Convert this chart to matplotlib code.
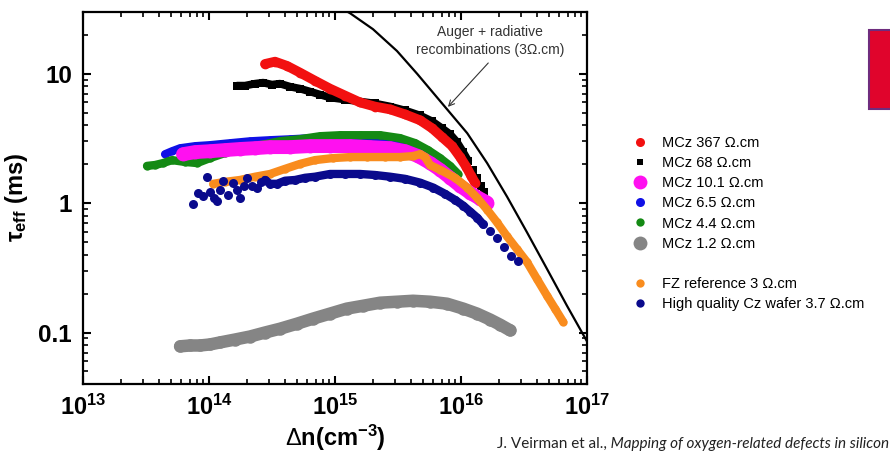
import matplotlib
matplotlib.use('Agg')
import matplotlib.pyplot as plt
from matplotlib.lines import Line2D
from matplotlib.patches import Rectangle
from matplotlib.ticker import LogLocator, NullFormatter
import numpy as np

plt.rcParams['font.family'] = ['Liberation Sans', 'DejaVu Sans']
plt.rcParams['mathtext.fontset'] = 'custom'
plt.rcParams['mathtext.rm'] = 'Liberation Sans'
plt.rcParams['mathtext.it'] = 'Liberation Sans:italic'
plt.rcParams['mathtext.bf'] = 'Liberation Sans:bold'

# ---------------- data (excess carrier density in cm^-3, lifetime in ms) ----------------
mcz367_n = [2.78e14, 3.34e14, 4.16e14, 5.27e14, 6.93e14, 9.12e14, 1.20e15, 1.58e15, 2.07e15,
            2.74e15, 3.60e15, 4.73e15, 5.89e15, 7.06e15, 8.49e15, 9.82e15, 1.10e16, 1.20e16, 1.29e16]
mcz367_tau = [11.9, 12.4, 11.5, 10.2, 8.83, 7.67, 6.78, 6.00, 5.58,
              5.30, 4.85, 4.37, 3.79, 3.24, 2.76, 2.27, 1.91, 1.63, 1.44]

mcz68_n = [1.67e14, 1.93e14, 2.32e14, 2.69e14, 3.16e14, 3.66e14, 4.40e14, 5.27e14, 6.34e14,
           7.60e14, 9.12e14, 1.20e15, 1.58e15, 2.07e15, 2.74e15, 3.60e15, 4.73e15, 5.89e15,
           7.06e15, 8.18e15, 9.29e15, 1.04e16, 1.14e16, 1.24e16, 1.34e16, 1.44e16, 1.52e16]
mcz68_tau = [8.09, 8.09, 8.38, 8.53, 8.24, 8.38, 7.94, 7.67, 7.28,
             6.90, 6.55, 6.32, 6.10, 5.89, 5.58, 5.20, 4.76, 4.29,
             3.79, 3.41, 2.96, 2.48, 2.12, 1.81, 1.57, 1.36, 1.22]

mcz10_n = [6.22e13, 7.74e13, 1.02e14, 1.34e14, 1.76e14, 2.32e14, 3.05e14, 4.40e14, 6.34e14,
           9.12e14, 1.32e15, 1.90e15, 2.74e15, 3.60e15, 4.56e15, 5.68e15, 6.81e15, 8.18e15,
           9.82e15, 1.18e16, 1.42e16, 1.61e16]
mcz10_tau = [2.39, 2.48, 2.52, 2.57, 2.62, 2.66, 2.71, 2.71, 2.76,
             2.76, 2.76, 2.71, 2.66, 2.52, 2.31, 2.04, 1.81, 1.57,
             1.36, 1.20, 1.08, 1.01]

mcz6_n = [4.47e13, 5.08e13, 5.89e13, 7.74e13, 1.02e14, 1.47e14, 2.11e14, 3.05e14, 4.40e14,
          6.34e14, 9.12e14, 1.32e15, 1.90e15, 2.74e15, 3.94e15, 5.18e15, 6.56e15, 7.89e15, 9.12e15]
mcz6_tau = [2.39, 2.52, 2.66, 2.76, 2.81, 2.91, 3.01, 3.07, 3.12,
            3.18, 3.24, 3.24, 3.18, 3.07, 2.81, 2.52, 2.19, 1.91, 1.65]

mcz4_n = [3.22e13, 3.72e13, 4.32e13, 5.08e13, 6.46e13, 8.04e13, 1.02e14, 1.34e14, 1.76e14,
          2.54e14, 3.66e14, 5.27e14, 7.60e14, 1.10e15, 1.58e15, 2.28e15, 3.28e15, 4.32e15,
          5.47e15, 6.81e15, 8.18e15, 9.46e15]
mcz4_tau = [1.94, 1.97, 2.04, 2.15, 2.08, 2.04, 2.23, 2.44, 2.62,
            2.81, 3.01, 3.12, 3.29, 3.35, 3.35, 3.35, 3.18, 2.91,
            2.57, 2.23, 1.94, 1.68]

mcz1_n = [5.89e13, 7.06e13, 8.49e13, 1.02e14, 1.22e14, 1.61e14, 2.11e14, 2.78e14, 3.66e14,
          4.99e14, 6.68e14, 9.12e14, 1.24e15, 1.67e15, 2.28e15, 3.10e15, 4.16e15, 5.68e15,
          7.74e15, 1.04e16, 1.34e16, 1.70e16, 2.04e16, 2.45e16]
mcz1_tau = [0.0782, 0.0794, 0.0794, 0.0809, 0.0838, 0.0883, 0.0931, 0.100, 0.107,
            0.117, 0.128, 0.140, 0.153, 0.161, 0.170, 0.173, 0.176, 0.173,
            0.167, 0.153, 0.140, 0.126, 0.115, 0.104]

fz_n = [1.08e14, 1.34e14, 1.76e14, 2.32e14, 3.05e14, 4.01e14, 5.27e14, 6.93e14, 9.64e14,
        1.32e15, 1.79e15, 2.49e15, 3.28e15, 4.16e15, 4.73e15, 5.18e15, 5.68e15, 6.81e15,
        8.95e15, 1.12e16, 1.34e16, 1.61e16, 1.93e16, 2.32e16, 2.78e16, 3.34e16, 4.01e16,
        4.82e16, 5.57e16, 6.46e16]
fz_tau = [1.41, 1.46, 1.51, 1.60, 1.68, 1.84, 2.01, 2.15, 2.23,
          2.27, 2.27, 2.27, 2.27, 2.31, 2.39, 2.27, 1.97, 1.81,
          1.57, 1.32, 1.10, 0.891, 0.710, 0.553, 0.441, 0.350, 0.259,
          0.192, 0.153, 0.121]

hq_n = [7.46e13, 8.18e13, 8.95e13, 9.64e13, 1.02e14, 1.10e14, 1.16e14, 1.22e14, 1.29e14,
        1.42e14, 1.55e14, 1.67e14, 1.76e14, 1.90e14, 2.00e14, 2.19e14, 2.40e14, 2.59e14,
        2.78e14, 3.05e14, 3.47e14, 4.01e14, 4.82e14, 5.78e14, 6.93e14, 9.12e14, 1.20e15,
        1.58e15, 2.07e15, 2.74e15, 3.60e15, 4.73e15, 6.00e15, 7.46e15, 8.95e15, 1.04e16,
        1.18e16, 1.34e16, 1.50e16, 1.70e16, 1.93e16, 2.19e16, 2.49e16, 2.83e16]
hq_tau = [0.99, 1.20, 1.14, 1.60, 1.22, 1.10, 1.03, 1.27, 1.49,
          1.16, 1.44, 1.27, 1.10, 1.36, 1.57, 1.36, 1.32, 1.46,
          1.51, 1.41, 1.41, 1.49, 1.51, 1.57, 1.60, 1.68, 1.68,
          1.68, 1.65, 1.60, 1.54, 1.44, 1.32, 1.18, 1.06, 0.957,
          0.861, 0.774, 0.684, 0.605, 0.535, 0.456, 0.389, 0.356]

auger_n = [7.60e14, 1.32e15, 2.00e15, 3.10e15, 4.48e15, 6.46e15, 1.12e16,
           1.61e16, 2.32e16, 3.34e16, 4.82e16, 6.93e16, 1.0e17]
auger_tau = [39.6, 29.3, 22.1, 15.0, 10.0, 6.55, 3.47,
             2.04, 1.12, 0.594, 0.309, 0.161, 0.0853]

legend_labels = ['MCz 367 Ω.cm', 'MCz 68 Ω.cm', 'MCz 10.1 Ω.cm', 'MCz 6.5 Ω.cm',
                 'MCz 4.4 Ω.cm', 'MCz 1.2 Ω.cm', '', 'FZ reference 3 Ω.cm',
                 'High quality Cz wafer 3.7 Ω.cm']
x_ticks = [1e13, 1e14, 1e15, 1e16, 1e17]
x_tick_labels = [r'$\mathbf{10^{13}}$', r'$\mathbf{10^{14}}$', r'$\mathbf{10^{15}}$',
                 r'$\mathbf{10^{16}}$', r'$\mathbf{10^{17}}$']
y_ticks = [0.1, 1, 10]
y_tick_labels = ['0.1', '1', '10']

# ---------------- styles ----------------
C_RED = '#f21010'
C_BLACK = '#000000'
C_MAG = '#ff10f0'
C_BLUE = '#1010e6'
C_GREEN = '#148a14'
C_GRAY = '#858585'
C_ORANGE = '#f98c1e'
C_NAVY = '#0a0a8c'

fig = plt.figure(figsize=(8.9, 4.53), dpi=100)
ax = fig.add_axes([0.0933, 0.1523, 0.5663, 0.8212])
ax.set_xscale('log')
ax.set_yscale('log')


def band(n, tau, color, lw, ms, marker='o', line_part=slice(None), z=2):
    n = np.asarray(n)
    tau = np.asarray(tau)
    if lw > 0:
        ax.plot(n[line_part], tau[line_part], '-', color=color, lw=lw,
                solid_capstyle='round', solid_joinstyle='round', zorder=z)
    ax.plot(n, tau, linestyle='none', marker=marker, ms=ms, color=color,
            mec=color, mew=0, zorder=z)


band(mcz68_n, mcz68_tau, C_BLACK, 5.6, 5.6, marker='s', line_part=slice(0, 23), z=2)
band(mcz367_n, mcz367_tau, C_RED, 7.0, 7.0, z=3)
band(mcz6_n, mcz6_tau, C_BLUE, 5.8, 5.8, z=3)
band(mcz4_n, mcz4_tau, C_GREEN, 6.0, 6.0, z=4)
band(mcz10_n, mcz10_tau, C_MAG, 10.0, 10.0, z=5)
band(fz_n, fz_tau, C_ORANGE, 6.0, 6.0, z=6)
band(hq_n, hq_tau, C_NAVY, 6.0, 6.5, line_part=slice(18, 39), z=7)
band(mcz1_n, mcz1_tau, C_GRAY, 9.0, 9.0, z=3)

ax.plot(auger_n, auger_tau, color='black', lw=1.6, zorder=8,
        solid_joinstyle='round')

ax.set_xlim(1e13, 1e17)
ax.set_ylim(0.04, 30)

ax.set_xticks(x_ticks)
ax.set_xticklabels(x_tick_labels, fontsize=17)
ax.set_yticks(y_ticks)
ax.set_yticklabels(y_tick_labels, fontsize=17.5, fontweight='bold')
ax.xaxis.set_minor_locator(LogLocator(base=10, subs=np.arange(2, 10), numticks=20))
ax.yaxis.set_minor_locator(LogLocator(base=10, subs=np.arange(2, 10), numticks=20))
ax.xaxis.set_minor_formatter(NullFormatter())
ax.yaxis.set_minor_formatter(NullFormatter())
ax.tick_params(which='both', direction='in', top=True, right=True)
ax.tick_params(which='major', length=6, width=1.5, pad=8)
ax.tick_params(which='minor', length=3.5, width=1.2)
for s in ax.spines.values():
    s.set_linewidth(1.6)

ax.set_xlabel(r'$\Delta$n(cm$^{\mathbf{-3}}$)', fontsize=17, fontweight='bold')
ax.xaxis.set_label_coords(0.5, -0.105)
ax.set_ylabel(r'τ$_{\mathbf{eff}}$ (ms)', fontsize=17, fontweight='bold')
ax.yaxis.set_label_coords(-0.105, 0.5)

ax.text(0.808, 0.923, 'Auger + radiative\nrecombinations (3Ω.cm)', transform=ax.transAxes,
        ha='center', va='center', fontsize=10, color='#333333', linespacing=1.35)
ax.annotate('', xy=(0.724, 0.745), xytext=(0.804, 0.863), xycoords='axes fraction',
            textcoords='axes fraction',
            arrowprops=dict(arrowstyle='->', color='#333333', lw=0.8, shrinkA=0, shrinkB=0))

# legend
handles = [
    Line2D([], [], ls='none', marker='o', ms=6.5, color=C_RED, mew=0),
    Line2D([], [], ls='none', marker='s', ms=5, color=C_BLACK, mew=0),
    Line2D([], [], ls='none', marker='o', ms=10, color=C_MAG, mew=0),
    Line2D([], [], ls='none', marker='o', ms=6.5, color=C_BLUE, mew=0),
    Line2D([], [], ls='none', marker='o', ms=6, color=C_GREEN, mew=0),
    Line2D([], [], ls='none', marker='o', ms=10, color=C_GRAY, mew=0),
    Line2D([], [], ls='none', marker=None),
    Line2D([], [], ls='none', marker='o', ms=6, color=C_ORANGE, mew=0),
    Line2D([], [], ls='none', marker='o', ms=6, color=C_NAVY, mew=0),
]
fig.legend(handles, legend_labels, loc='upper left', bbox_to_anchor=(633 / 890, 1 - 136 / 453),
           frameon=False, fontsize=10.5, handlelength=1.0, handletextpad=1.0,
           labelspacing=0.42, borderpad=0, borderaxespad=0)

# decorative red box at top right
fig.patches.append(Rectangle((869 / 890, 1 - 109 / 453), 0.05, 79 / 453,
                             transform=fig.transFigure, facecolor='#e0042c',
                             edgecolor='#6e2c7e', lw=1.5))

# citation
t1 = fig.text(497 / 890, 1 - 451 / 453, 'J. Veirman et al.,', fontsize=11,
              family=['Lato', 'DejaVu Sans'], color='#222222', va='bottom')
ax.annotate(' Mapping of oxygen-related defects in silicon', xy=(1, 0), xycoords=t1,
            ha='left', va='bottom', fontsize=11, style='italic',
            family=['Lato', 'DejaVu Sans'], color='#222222', annotation_clip=False)

fig.savefig('out.png', dpi=100)
